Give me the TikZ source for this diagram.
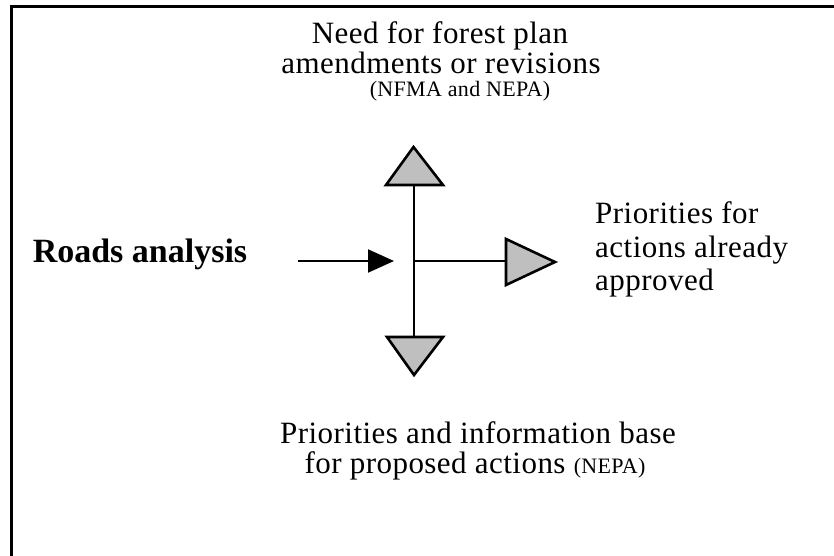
\documentclass[tikz,border=0pt]{standalone}
\usepackage{fontspec}
\setmainfont{Liberation Serif}
\newfontfamily\lsfont[LetterSpace=1.5]{Liberation Serif}
\usetikzlibrary{arrows.meta}
\begin{document}
\begin{tikzpicture}[x=1pt,y=-1pt,
  txt/.style={inner sep=0pt,anchor=base,font=\lsfont\fontsize{31}{34}\selectfont},
  txtl/.style={txt,anchor=base west},
  smalltxt/.style={inner sep=0pt,anchor=base,font=\lsfont\fontsize{22}{25}\selectfont},
  tri/.style={draw=black,fill=black!25,line width=2.6pt,line join=miter},
  conn/.style={draw=black,line width=2pt},
  frame/.style={draw=black,line width=3pt}]
\useasboundingbox (0,0) rectangle (834,556);
% frame (only top and left visible)
\draw[frame] (11,556) -- (11,7) -- (834,7);
% hub and triangle bases
\coordinate (hub) at (414,261);
\coordinate (upbase) at (414,185);
\coordinate (downbase) at (414,337);
\coordinate (rightbase) at (506,261);
% connectors
\draw[conn] (upbase) -- (downbase);
\draw[conn] (hub) -- (rightbase);
% triangles
\draw[tri] (386,185) -- (413.5,147) -- (443,185) -- cycle;
\draw[tri] (387,337) -- (414,375) -- (443,337) -- cycle;
\draw[tri] (506,239) -- (555,262) -- (506,285) -- cycle;
% input arrow
\coordinate (arrstart) at (298,261);
\coordinate (arrend) at (394,261);
\draw[conn,-{Triangle[length=26pt,width=23pt]}] (arrstart) -- (arrend);
% texts
\node[inner sep=0pt,anchor=base,font=\bfseries\fontsize{34}{38}\selectfont] (roads) at (140,262) {Roads analysis};
\node[txt] (top1) at (440,44) {Need for forest plan};
\node[txt] (top2) at (441,74) {amendments or revisions};
\node[smalltxt] (top3) at (460,97) {(NFMA and NEPA)};
\node[txtl] (r1) at (595,223) {Priorities for};
\node[txtl] (r2) at (595,257) {actions already};
\node[txtl] (r3) at (595,290) {approved};
\node[txt] (b1) at (478,443) {Priorities and information base};
\node[txt] (b2) at (475,473) {for proposed actions {\fontsize{22}{25}\selectfont(NEPA)}};
\end{tikzpicture}
\end{document}
